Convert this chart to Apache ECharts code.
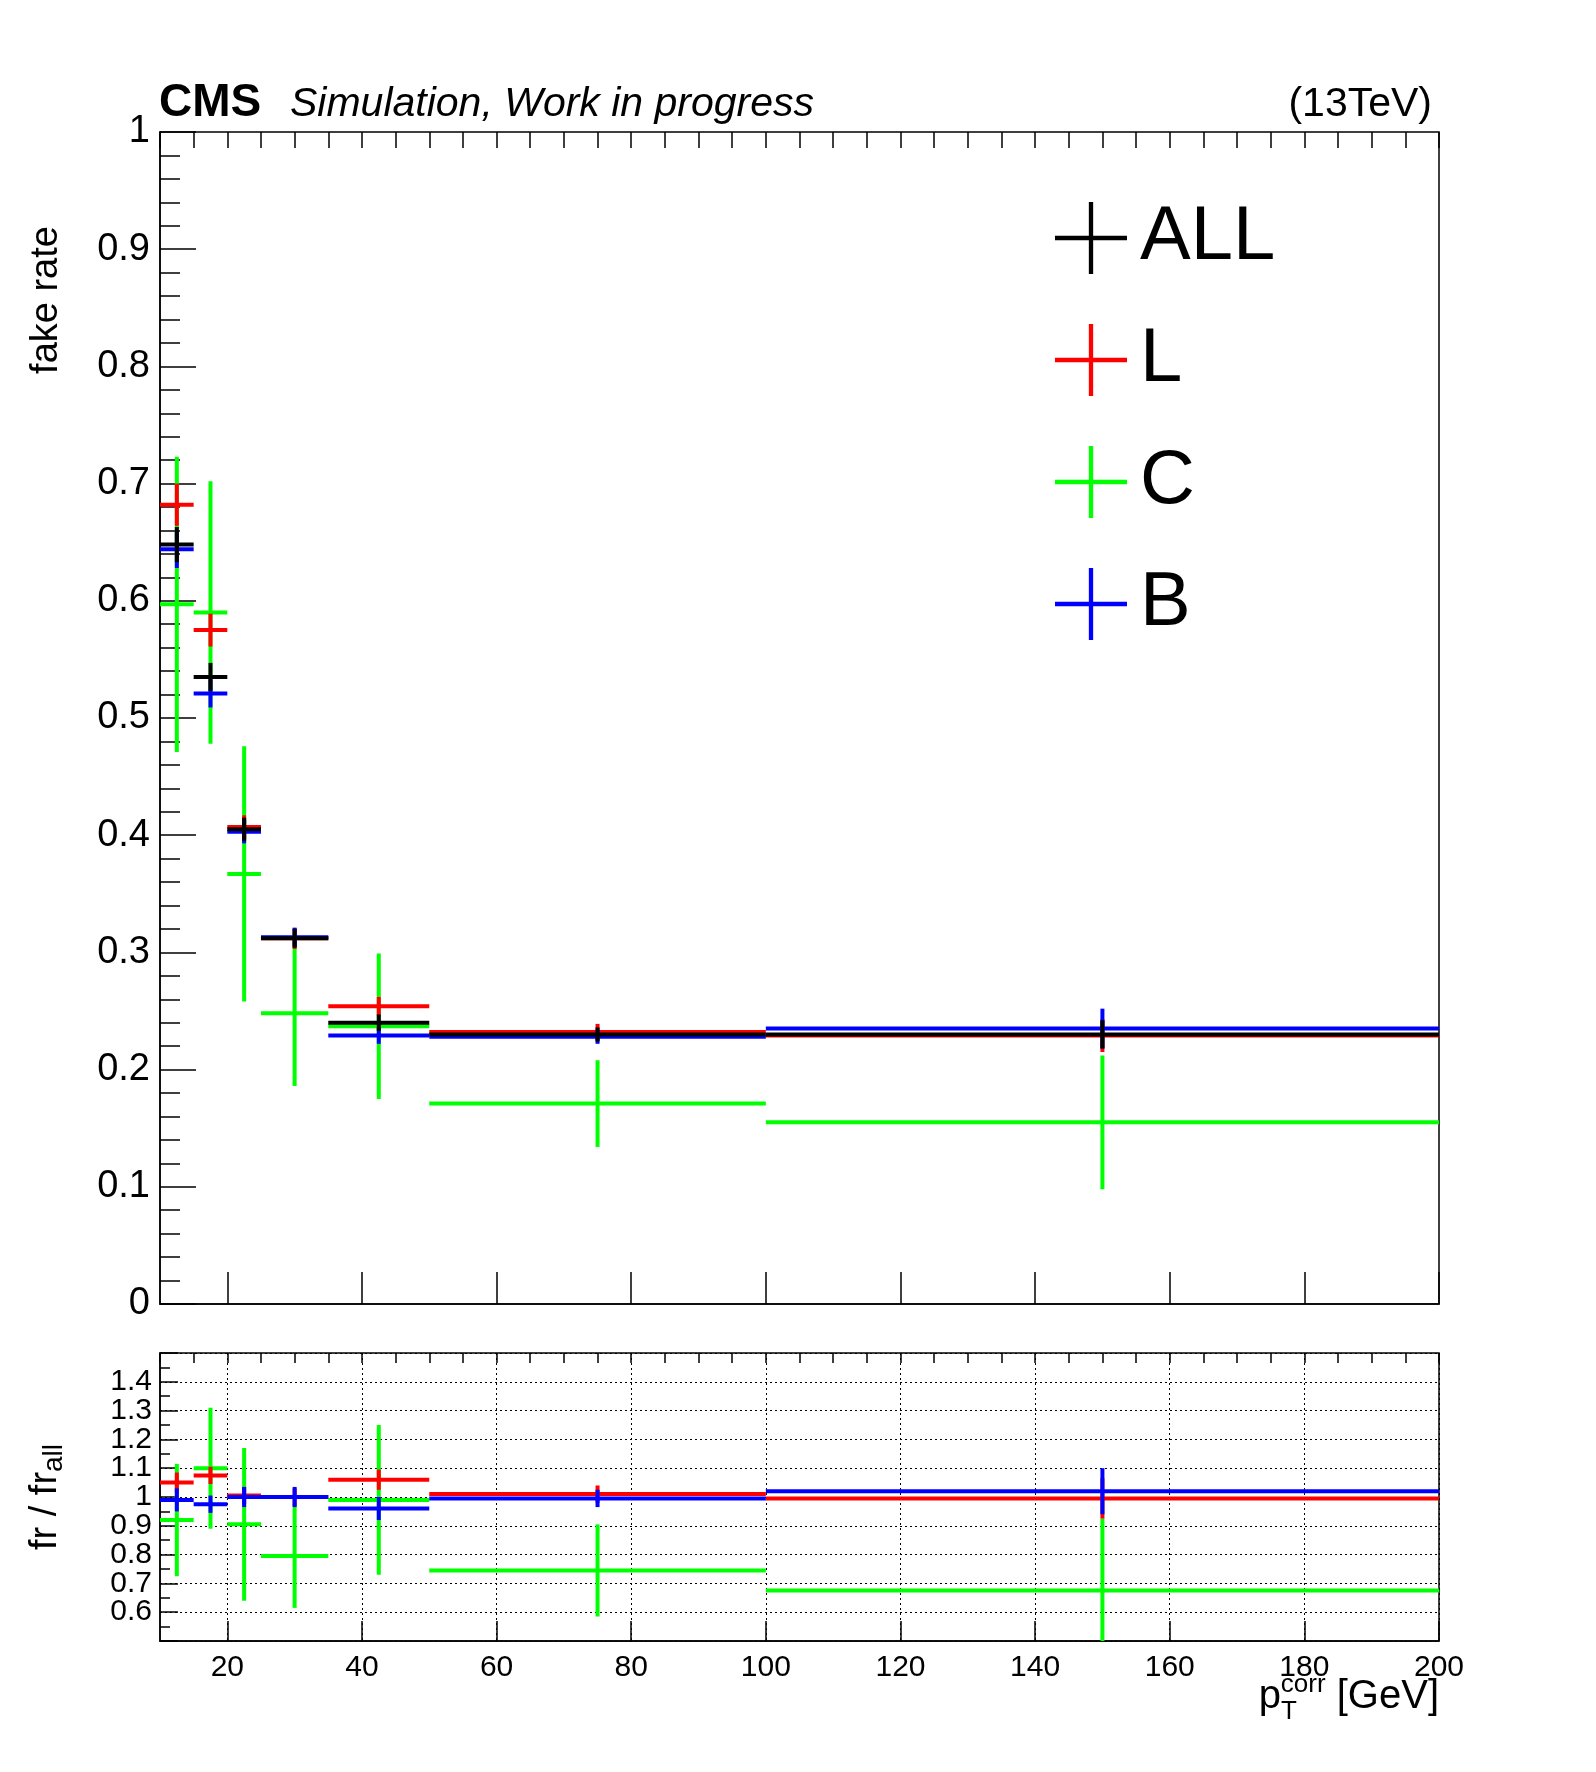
<!DOCTYPE html>
<html>
	<head>
		<meta charset="utf-8">
		<title></title>
		<script type="text/javascript" src="https://cdn.jsdelivr.net/npm/echarts@6/dist/echarts.min.js"></script>
	</head>
	<body style="margin:0;background:#fff;">
		<div id="chart" style="width:1596px;height:1772px;"></div>
		<script type="text/javascript">
			// 分箱
			var binLo = [10, 15, 20, 25, 35, 50, 100];
			var binHi = [15, 20, 25, 35, 50, 100, 200];
			var binMid = [12.5, 17.5, 22.5, 30, 42.5, 75, 150];

			// fake rate
			var frAll = [0.648, 0.535, 0.405, 0.312, 0.240, 0.230, 0.230];
			var frAllErr = [0.015, 0.012, 0.010, 0.008, 0.007, 0.006, 0.012];
			var frL = [0.682, 0.575, 0.407, 0.312, 0.254, 0.232, 0.229];
			var frLErr = [0.018, 0.014, 0.010, 0.009, 0.008, 0.007, 0.014];
			var frC = [0.597, 0.590, 0.367, 0.248, 0.237, 0.171, 0.155];
			var frCErr = [0.126, 0.112, 0.109, 0.062, 0.062, 0.037, 0.057];
			var frB = [0.644, 0.521, 0.403, 0.313, 0.229, 0.228, 0.235];
			var frBErr = [0.016, 0.012, 0.010, 0.008, 0.007, 0.006, 0.017];

			// ratio fr / fr_all
			var rL = [1.05, 1.075, 1.005, 1.0, 1.06, 1.01, 0.995];
			var rLErr = [0.035, 0.03, 0.03, 0.03, 0.035, 0.03, 0.07];
			var rC = [0.92, 1.10, 0.905, 0.795, 0.99, 0.745, 0.675];
			var rCErr = [0.195, 0.21, 0.265, 0.18, 0.26, 0.16, 0.25];
			var rB = [0.99, 0.975, 1.0, 1.0, 0.96, 0.995, 1.02];
			var rBErr = [0.04, 0.03, 0.035, 0.035, 0.04, 0.03, 0.08];

			var xMajor = [20, 40, 60, 80, 100, 120, 140, 160, 180, 200];
			var xMinor = [];
			for (var v = 10; v <= 200; v += 5) { xMinor.push(v); }

			var FONT = 'Liberation Sans';

			function rows(y, e) {
				var out = [];
				for (var i = 0; i < binMid.length; i++) {
					out.push([binMid[i], y[i], binLo[i], binHi[i], y[i] - e[i], y[i] + e[i]]);
				}
				return out;
			}

			// 误差棒
			function renderErr(params, api) {
				var c = api.coord([api.value(0), api.value(1)]);
				var l = api.coord([api.value(2), api.value(1)]);
				var r = api.coord([api.value(3), api.value(1)]);
				var lo = api.coord([api.value(0), api.value(4)]);
				var hi = api.coord([api.value(0), api.value(5)]);
				var cs = params.coordSys;
				var st = { stroke: api.visual('color'), lineWidth: 4 };
				return {
					type: 'group',
					clipPath: { type: 'rect', shape: { x: cs.x, y: cs.y, width: cs.width, height: cs.height } },
					children: [
						{ type: 'line', shape: { x1: l[0], y1: c[1], x2: r[0], y2: c[1] }, style: st },
						{ type: 'line', shape: { x1: c[0], y1: lo[1], x2: c[0], y2: hi[1] }, style: st }
					]
				};
			}

			function errSeries(name, color, xi, yi, data) {
				return {
					name: name, type: 'custom', renderItem: renderErr,
					xAxisIndex: xi, yAxisIndex: yi, itemStyle: { color: color },
					encode: { x: [0, 2, 3], y: [1, 4, 5] },
					data: data, silent: true
				};
			}

			function xAxisDef(gi, labels, minor, grid) {
				return {
					type: 'value', gridIndex: gi, min: 10, max: 200,
					axisLine: { show: !minor, onZero: false, lineStyle: { color: '#000', width: 1.5 } },
					axisTick: minor
						? { inside: true, length: gi === 0 ? 16 : 10, customValues: xMinor, lineStyle: { color: '#000', width: 1.5 } }
						: { inside: true, length: gi === 0 ? 32 : 20, customValues: xMajor, lineStyle: { color: '#000', width: 1.5 } },
					axisLabel: { show: labels, customValues: xMajor, color: '#000', fontFamily: FONT, fontSize: 30, margin: 12 },
					splitLine: { show: grid, lineStyle: { color: '#000', type: [2, 3], width: 1 } }
				};
			}

			var plus = 'path://M0,47H100V53H0Z M47,0H53V100H47Z';

			var myChart = echarts.init(document.getElementById('chart'));
			var option = {
				animation: false,
				grid: [
					{ left: 160, right: 157, top: 132, height: 1172, show: true, borderColor: '#000', borderWidth: 1.5 },
					{ left: 160, right: 157, top: 1353, height: 288, show: true, borderColor: '#000', borderWidth: 1.5 }
				],
				xAxis: [
					xAxisDef(0, false, false, false),
					xAxisDef(0, false, true, false),
					xAxisDef(1, true, false, true),
					xAxisDef(1, false, true, false)
				],
				yAxis: [
					{
						type: 'value', gridIndex: 0, min: 0, max: 1, interval: 0.1,
						axisLine: { show: true, lineStyle: { color: '#000', width: 1.5 } },
						axisTick: { inside: true, length: 36, lineStyle: { color: '#000', width: 1.5 } },
						minorTick: { show: true, splitNumber: 5, length: 20, lineStyle: { color: '#000', width: 1.5 } },
						axisLabel: { color: '#000', fontFamily: FONT, fontSize: 38, margin: 10,
							formatter: function (v) { return String(Math.round(v * 10) / 10); } },
						splitLine: { show: false }
					},
					{
						type: 'value', gridIndex: 1, min: 0.5, max: 1.5, interval: 0.1,
						axisLine: { show: true, lineStyle: { color: '#000', width: 1.5 } },
						axisTick: { inside: true, length: 18, lineStyle: { color: '#000', width: 1.5 } },
						minorTick: { show: true, splitNumber: 2, length: 10, lineStyle: { color: '#000', width: 1.5 } },
						axisLabel: { color: '#000', fontFamily: FONT, fontSize: 30, margin: 8,
							formatter: function (v) { return String(Math.round(v * 10) / 10); } },
						splitLine: { show: true, lineStyle: { color: '#000', type: [2, 3], width: 1 } }
					}
				],
				legend: {
					data: ['ALL', 'L', 'C', 'B'], orient: 'vertical', left: 1050, top: 195,
					itemWidth: 72, itemHeight: 76, itemGap: 46,
					textStyle: { fontFamily: FONT, fontSize: 76, color: '#000', padding: [0, 0, 0, 8] },
					icon: plus, selectedMode: false
				},
				series: [
					errSeries('C', '#00ff00', 0, 0, rows(frC, frCErr)),
					errSeries('L', '#ff0000', 0, 0, rows(frL, frLErr)),
					errSeries('B', '#0000ff', 0, 0, rows(frB, frBErr)),
					errSeries('ALL', '#000000', 0, 0, rows(frAll, frAllErr)),
					errSeries('C', '#00ff00', 2, 1, rows(rC, rCErr)),
					errSeries('L', '#ff0000', 2, 1, rows(rL, rLErr)),
					errSeries('B', '#0000ff', 2, 1, rows(rB, rBErr))
				],
				graphic: [
					{ type: 'text', left: 159, top: 80, style: { text: 'CMS', font: 'bold 46px "Liberation Sans"', fill: '#000' } },
					{ type: 'text', left: 290, top: 84, style: { text: 'Simulation, Work in progress', font: 'italic 41px "Liberation Sans"', fill: '#000' } },
					{ type: 'text', right: 164, top: 84, style: { text: '(13TeV)', font: '41px "Liberation Sans"', fill: '#000' } },
					{ type: 'text', x: 28, y: 300, rotation: Math.PI / 2, style: { text: 'fake rate', font: '38px "Liberation Sans"', fill: '#000', align: 'center', verticalAlign: 'top' } },
					{ type: 'text', x: 24, y: 1497, rotation: Math.PI / 2, style: {
						text: '{a|fr / fr}{s|all}', fill: '#000', align: 'center', verticalAlign: 'top',
						rich: { a: { font: '38px "Liberation Sans"' }, s: { font: '28px "Liberation Sans"', padding: [16, 0, 0, 0] } } } },
					{ type: 'text', right: 157, top: 1672, style: {
						text: '{p|p}{sub|T}{sup|corr}{g| [GeV]}', fill: '#000',
						rich: {
							p: { font: '40px "Liberation Sans"' },
							sub: { font: '26px "Liberation Sans"', padding: [30, 0, 0, 0] },
							sup: { font: '26px "Liberation Sans"', padding: [0, 0, 24, -16] },
							g: { font: '40px "Liberation Sans"' }
						} } }
				]
			};
			myChart.setOption(option);
		</script>
	</body>
</html>
